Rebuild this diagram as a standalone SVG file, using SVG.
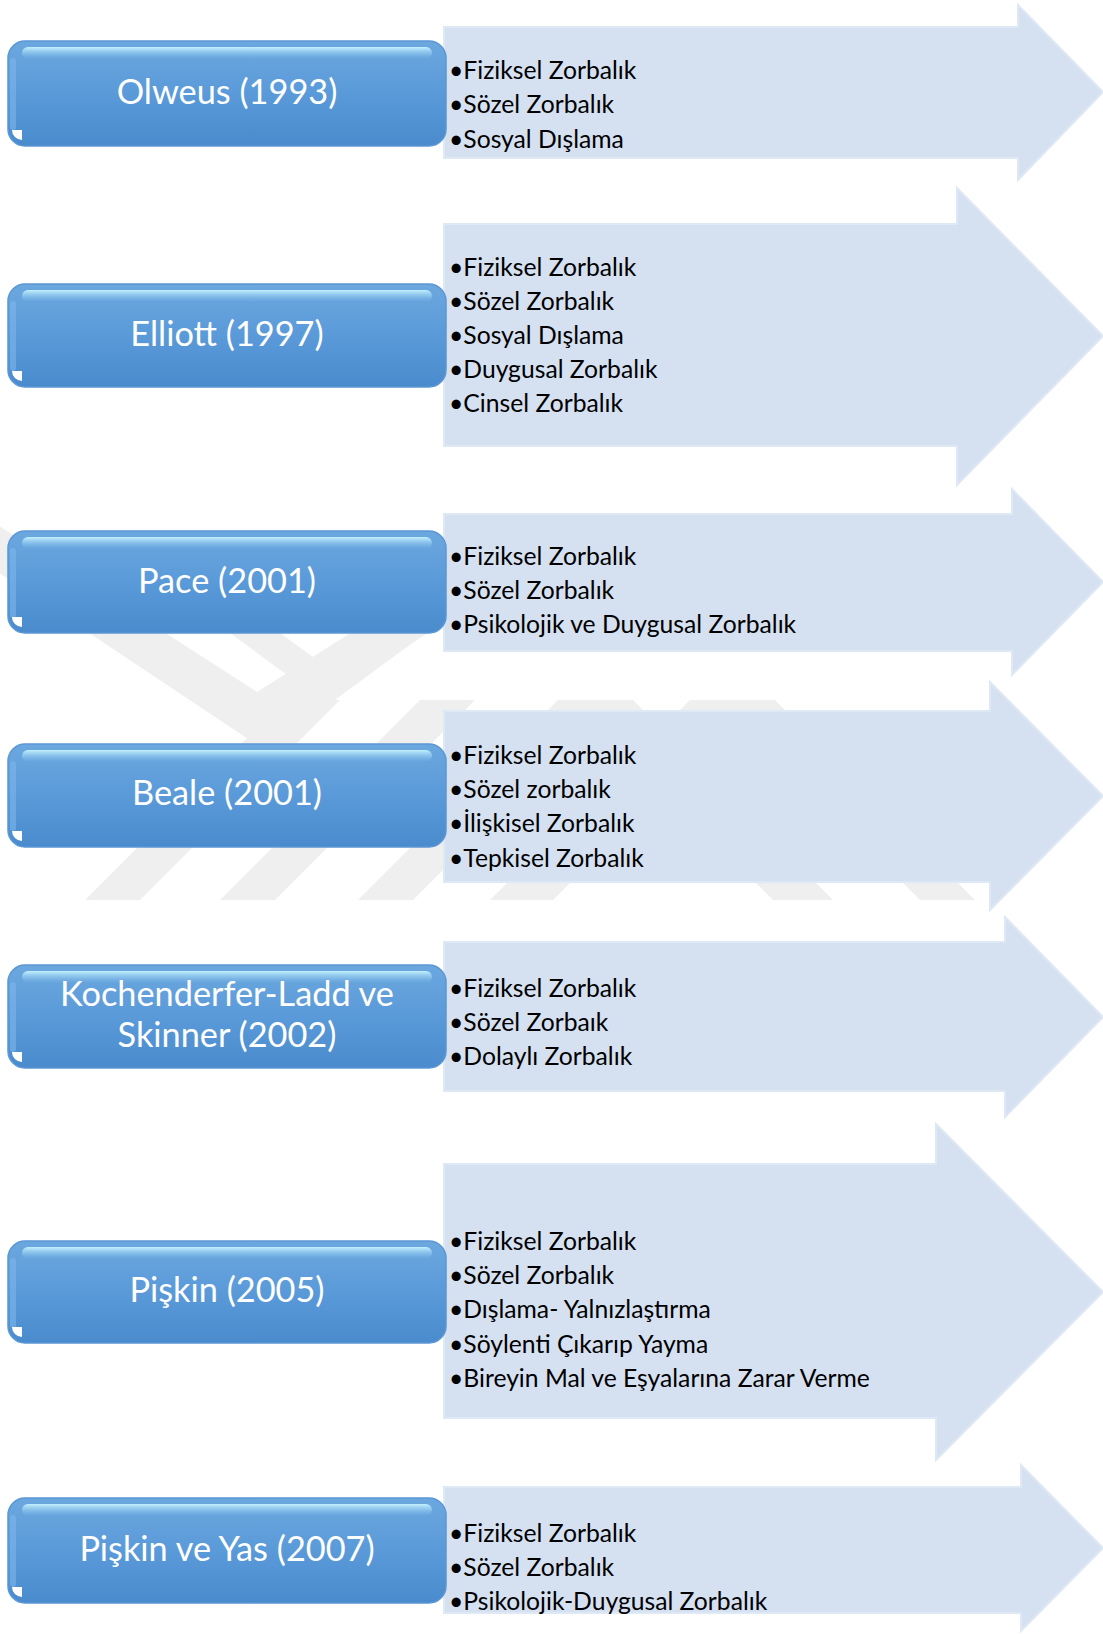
<svg xmlns="http://www.w3.org/2000/svg" width="1103" height="1634" viewBox="0 0 1103 1634">
<style>
.title{font-family:Lato,"Open Sans",sans-serif;font-size:34.3px;fill:#ffffff;text-anchor:middle}
.item{font-family:Lato,"Open Sans",sans-serif;font-size:24.7px;fill:#000000}
.arrow{fill:#d5e0f0;stroke:#dfe8f5;stroke-width:2}
.wm{fill:#efefef}
.boxbody{fill:url(#boxGrad);stroke:#5b97d4;stroke-width:1.5}
.hl{fill:url(#hlGrad)}
.lb{fill:#7db6ea;opacity:0.6}
.cn{fill:#ffffff}
</style>
<defs>
<linearGradient id="boxGrad" x1="0" y1="0" x2="0" y2="1">
<stop offset="0" stop-color="#6ca8df"/>
<stop offset="0.5" stop-color="#5a9ad9"/>
<stop offset="1" stop-color="#4a8bcd"/>
</linearGradient>
<linearGradient id="hlGrad" x1="0" y1="0" x2="0" y2="1">
<stop offset="0" stop-color="#c8f4ff" stop-opacity="0.95"/>
<stop offset="1" stop-color="#8cc8f0" stop-opacity="0"/>
</linearGradient>
</defs>
<rect width="1103" height="1634" fill="#ffffff"/>
<g id="watermark">
<polygon class="wm" points="-80,520 -10,520 257,692 530,520 600,520 257,745"/>
<polygon class="wm" points="230,633 280,633 328,668 376,633 426,633 328,705"/>
<polygon class="wm" points="85,900 140,900 340,700 285,700"/>
<polygon class="wm" points="220,900 275,900 475,700 420,700"/>
<polygon class="wm" points="358,900 413,900 613,700 558,700"/>
<polygon class="wm" points="490,900 553,900 753,700 690,700"/>
<polygon class="wm" points="773,900 833,900 633,700 573,700"/>
<polygon class="wm" points="920,900 975,900 775,700 720,700"/>
</g>
<g id="connectors">
<polygon class="arrow" points="444,27 1018,27 1018,5 1103,92 1018,180 1018,158 444,158"/>
<polygon class="arrow" points="444,224 957,224 957,188 1103,336 957,485 957,446 444,446"/>
<polygon class="arrow" points="444,514 1012,514 1012,489 1103,582 1012,675 1012,651 444,651"/>
<polygon class="arrow" points="444,711 990,711 990,682 1103,796 990,910 990,882 444,882"/>
<polygon class="arrow" points="444,942 1005,942 1005,917 1103,1017 1005,1117 1005,1091 444,1091"/>
<polygon class="arrow" points="444,1164 936,1164 936,1124 1103,1292 936,1460 936,1418 444,1418"/>
<polygon class="arrow" points="444,1487 1021,1487 1021,1465 1103,1548 1021,1631 1021,1613 444,1613"/>
</g>
<g id="node1">
<rect class="boxbody" x="8" y="41" width="438" height="105" rx="17"/>
<rect class="hl" x="22" y="47" width="410" height="12" rx="6"/>
<rect class="lb" x="10" y="58" width="6" height="72" rx="3"/>
<path class="cn" d="M12,130 a10,10 0 0 0 10,10 l0,-10 z"/>
<text class="title" x="227" y="104">Olweus (1993)</text>
<text class="item" x="449" y="79">•Fiziksel Zorbalık</text>
<text class="item" x="449" y="113">•Sözel Zorbalık</text>
<text class="item" x="449" y="148">•Sosyal Dışlama</text>
</g>
<g id="node2">
<rect class="boxbody" x="8" y="284" width="438" height="103" rx="17"/>
<rect class="hl" x="22" y="290" width="410" height="12" rx="6"/>
<rect class="lb" x="10" y="301" width="6" height="70" rx="3"/>
<path class="cn" d="M12,371 a10,10 0 0 0 10,10 l0,-10 z"/>
<text class="title" x="227" y="346">Elliott (1997)</text>
<text class="item" x="449" y="276">•Fiziksel Zorbalık</text>
<text class="item" x="449" y="310">•Sözel Zorbalık</text>
<text class="item" x="449" y="344">•Sosyal Dışlama</text>
<text class="item" x="449" y="378">•Duygusal Zorbalık</text>
<text class="item" x="449" y="412">•Cinsel Zorbalık</text>
</g>
<g id="node3">
<rect class="boxbody" x="8" y="531" width="438" height="102" rx="17"/>
<rect class="hl" x="22" y="537" width="410" height="12" rx="6"/>
<rect class="lb" x="10" y="548" width="6" height="70" rx="3"/>
<path class="cn" d="M12,617 a10,10 0 0 0 10,10 l0,-10 z"/>
<text class="title" x="227" y="593">Pace (2001)</text>
<text class="item" x="449" y="565">•Fiziksel Zorbalık</text>
<text class="item" x="449" y="599">•Sözel Zorbalık</text>
<text class="item" x="449" y="633">•Psikolojik ve Duygusal Zorbalık</text>
</g>
<g id="node4">
<rect class="boxbody" x="8" y="744" width="438" height="103" rx="17"/>
<rect class="hl" x="22" y="750" width="410" height="12" rx="6"/>
<rect class="lb" x="10" y="761" width="6" height="70" rx="3"/>
<path class="cn" d="M12,831 a10,10 0 0 0 10,10 l0,-10 z"/>
<text class="title" x="227" y="805">Beale (2001)</text>
<text class="item" x="449" y="764">•Fiziksel Zorbalık</text>
<text class="item" x="449" y="798">•Sözel zorbalık</text>
<text class="item" x="449" y="832">•İlişkisel Zorbalık</text>
<text class="item" x="449" y="867">•Tepkisel Zorbalık</text>
</g>
<g id="node5">
<rect class="boxbody" x="8" y="965" width="438" height="103" rx="17"/>
<rect class="hl" x="22" y="971" width="410" height="12" rx="6"/>
<rect class="lb" x="10" y="982" width="6" height="70" rx="3"/>
<path class="cn" d="M12,1052 a10,10 0 0 0 10,10 l0,-10 z"/>
<text class="title" x="227" y="1006">Kochenderfer-Ladd ve</text>
<text class="title" x="227" y="1047">Skinner (2002)</text>
<text class="item" x="449" y="997">•Fiziksel Zorbalık</text>
<text class="item" x="449" y="1031">•Sözel Zorbaık</text>
<text class="item" x="449" y="1065">•Dolaylı Zorbalık</text>
</g>
<g id="node6">
<rect class="boxbody" x="8" y="1241" width="438" height="102" rx="17"/>
<rect class="hl" x="22" y="1247" width="410" height="12" rx="6"/>
<rect class="lb" x="10" y="1258" width="6" height="70" rx="3"/>
<path class="cn" d="M12,1327 a10,10 0 0 0 10,10 l0,-10 z"/>
<text class="title" x="227" y="1302">Pişkin (2005)</text>
<text class="item" x="449" y="1250">•Fiziksel Zorbalık</text>
<text class="item" x="449" y="1284">•Sözel Zorbalık</text>
<text class="item" x="449" y="1318">•Dışlama- Yalnızlaştırma</text>
<text class="item" x="449" y="1353">•Söylenti Çıkarıp Yayma</text>
<text class="item" x="449" y="1387">•Bireyin Mal ve Eşyalarına Zarar Verme</text>
</g>
<g id="node7">
<rect class="boxbody" x="8" y="1498" width="438" height="105" rx="17"/>
<rect class="hl" x="22" y="1504" width="410" height="12" rx="6"/>
<rect class="lb" x="10" y="1515" width="6" height="72" rx="3"/>
<path class="cn" d="M12,1587 a10,10 0 0 0 10,10 l0,-10 z"/>
<text class="title" x="227" y="1561">Pişkin ve Yas (2007)</text>
<text class="item" x="449" y="1542">•Fiziksel Zorbalık</text>
<text class="item" x="449" y="1576">•Sözel Zorbalık</text>
<text class="item" x="449" y="1610">•Psikolojik-Duygusal Zorbalık</text>
</g>
</svg>
